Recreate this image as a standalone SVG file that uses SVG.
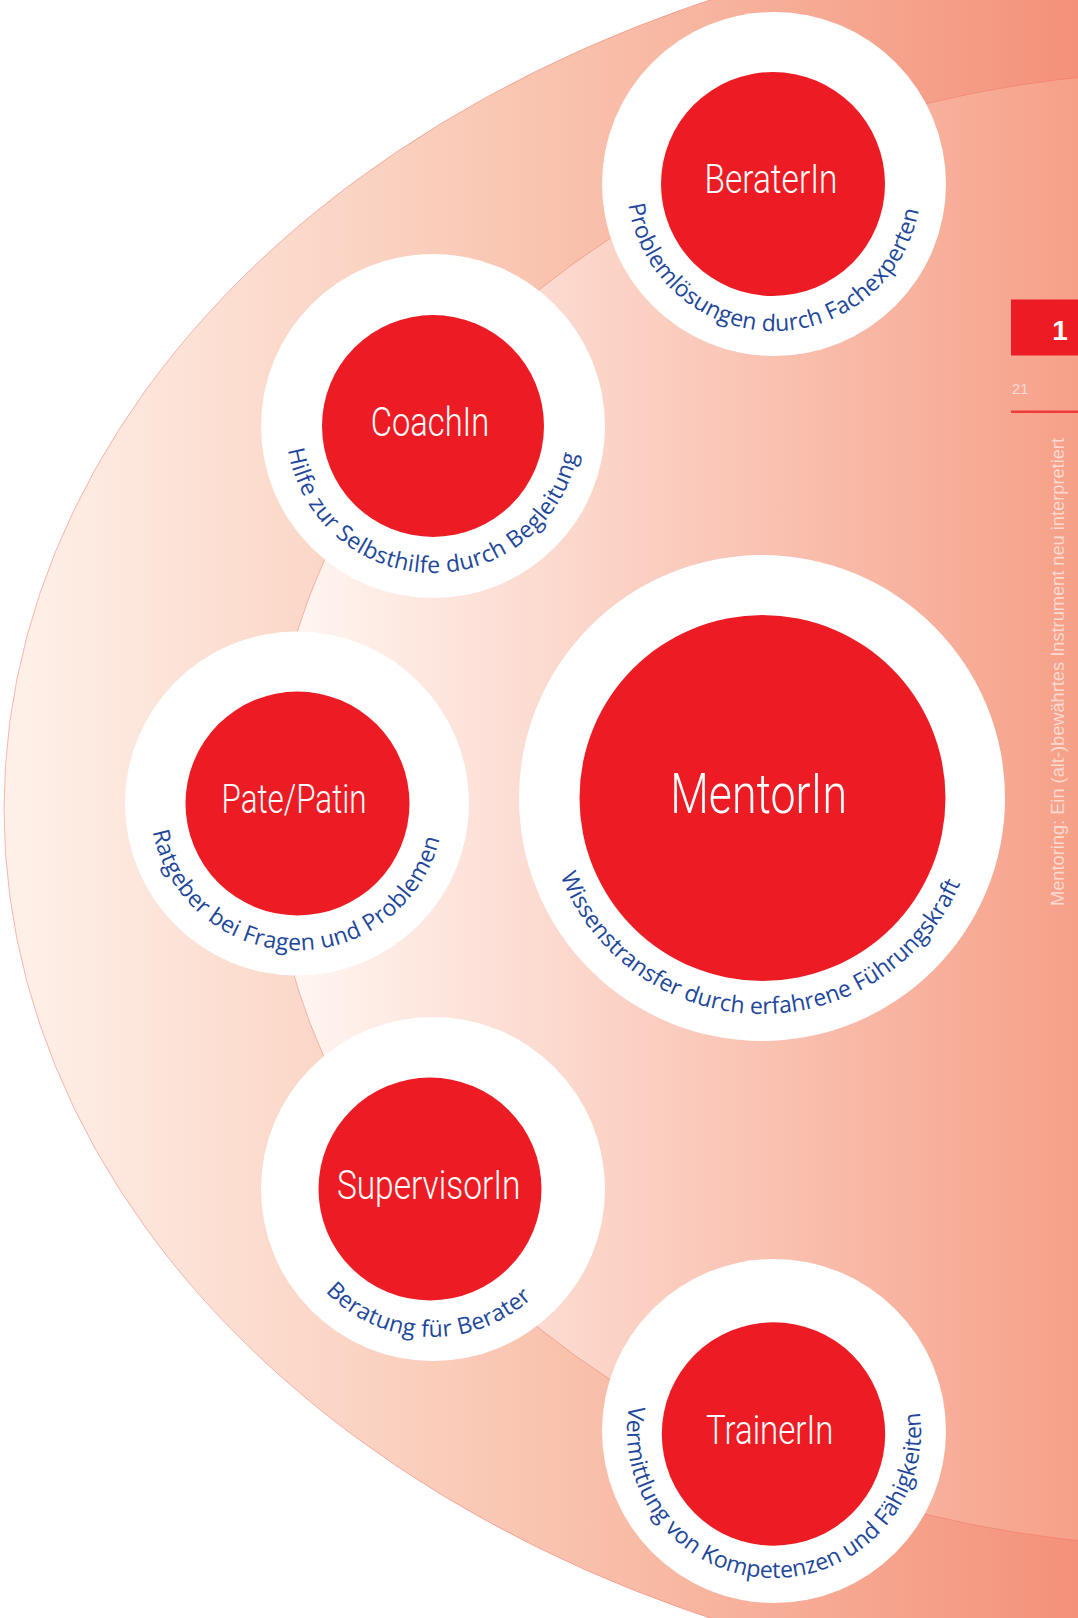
<svg xmlns="http://www.w3.org/2000/svg" xmlns:xlink="http://www.w3.org/1999/xlink" width="1078" height="1618" viewBox="0 0 1078 1618">
<defs>
  <linearGradient id="gOuter" gradientUnits="userSpaceOnUse" x1="4" y1="0" x2="1078" y2="0">
    <stop offset="0" stop-color="#FEF1EA"/>
    <stop offset="0.5" stop-color="#F9C4AF"/>
    <stop offset="1" stop-color="#F4917A"/>
  </linearGradient>
  <linearGradient id="gInner" gradientUnits="userSpaceOnUse" x1="270" y1="0" x2="1078" y2="0">
    <stop offset="0" stop-color="#FFF8F4"/>
    <stop offset="1" stop-color="#F6A088"/>
  </linearGradient>
  <path id="pBerater" d="M774,37 A147,147 0 0 0 774,331 A147,147 0 0 0 774,37"/>
  <path id="pCoach" d="M433,279 A147,147 0 0 0 433,573 A147,147 0 0 0 433,279"/>
  <path id="pPate" d="M297,656.5 A147,147 0 0 0 297,950.5 A147,147 0 0 0 297,656.5"/>
  <path id="pMentor" d="M762,582 A216,216 0 0 0 762,1014 A216,216 0 0 0 762,582"/>
  <path id="pSuper" d="M432,1041 A148,148 0 0 0 432,1337 A148,148 0 0 0 432,1041"/>
  <path id="pTrainer" d="M774,1284 A147,147 0 0 0 774,1578 A147,147 0 0 0 774,1284"/>
</defs>
<style>
  .band{stroke:#F26F62;stroke-width:0.8;stroke-opacity:0.6}
  .ring{fill:#FFFFFF}
  .core{fill:#ED1C24}
  .lbl{font-family:Roboto,"Liberation Sans",Arial,sans-serif;font-weight:300;fill:#FFFFFF;text-anchor:middle}
  .cap{font-family:"Open Sans","Noto Sans",sans-serif;font-size:23px;fill:#21479A;text-anchor:middle}
  .side{font-family:"Liberation Sans",Arial,sans-serif;fill:#FFFFFF;fill-opacity:0.6}
</style>
<rect x="0" y="0" width="1078" height="1618" fill="#FFFFFF"/>
<g id="background">
  <ellipse class="band" cx="1200" cy="809" rx="1196" ry="887" fill="url(#gOuter)"/>
  <ellipse class="band" cx="1200" cy="809" rx="930" ry="738" fill="url(#gInner)"/>
</g>
<g id="node-berater">
  <circle class="ring" cx="774" cy="184" r="172"/>
  <circle class="core" cx="773" cy="184" r="112"/>
  <text class="lbl" x="771" y="193" font-size="41" textLength="133" lengthAdjust="spacingAndGlyphs">BeraterIn</text>
  <text class="cap"><textPath xlink:href="#pBerater" href="#pBerater" startOffset="49.7%" textLength="415">Problemlösungen durch Fachexperten</textPath></text>
</g>
<g id="node-coach">
  <circle class="ring" cx="433" cy="426" r="172"/>
  <circle class="core" cx="433" cy="426" r="111"/>
  <text class="lbl" x="430" y="435.5" font-size="41" textLength="118.5" lengthAdjust="spacingAndGlyphs">CoachIn</text>
  <text class="cap"><textPath xlink:href="#pCoach" href="#pCoach" startOffset="49.75%" textLength="409">Hilfe zur Selbsthilfe durch Begleitung</textPath></text>
</g>
<g id="node-pate">
  <circle class="ring" cx="297" cy="803.5" r="172"/>
  <circle class="core" cx="297.5" cy="803.5" r="112"/>
  <text class="lbl" x="294" y="813" font-size="41" textLength="145" lengthAdjust="spacingAndGlyphs">Pate/Patin</text>
  <text class="cap"><textPath xlink:href="#pPate" href="#pPate" startOffset="49.6%" textLength="398">Ratgeber bei Fragen und Problemen</textPath></text>
</g>
<g id="node-mentor">
  <circle class="ring" cx="762" cy="798" r="243"/>
  <circle class="core" cx="762.5" cy="798" r="183"/>
  <text class="lbl" x="758.6" y="813" font-size="55" textLength="176.7" lengthAdjust="spacingAndGlyphs">MentorIn</text>
  <text class="cap"><textPath xlink:href="#pMentor" href="#pMentor" startOffset="49.7%" textLength="511">Wissenstransfer durch erfahrene Führungskraft</textPath></text>
</g>
<g id="node-supervisor">
  <circle class="ring" cx="433" cy="1189" r="172"/>
  <circle class="core" cx="430" cy="1189" r="111.5"/>
  <text class="lbl" x="428.7" y="1198.5" font-size="41" textLength="183.6" lengthAdjust="spacingAndGlyphs">SupervisorIn</text>
  <text class="cap"><textPath xlink:href="#pSuper" href="#pSuper" startOffset="49.5%" textLength="229">Beratung für Berater</textPath></text>
</g>
<g id="node-trainer">
  <circle class="ring" cx="774" cy="1431" r="172"/>
  <circle class="core" cx="773.5" cy="1434" r="111.7"/>
  <text class="lbl" x="769.7" y="1444" font-size="41" textLength="127.3" lengthAdjust="spacingAndGlyphs">TrainerIn</text>
  <text class="cap"><textPath xlink:href="#pTrainer" href="#pTrainer" startOffset="49.65%" textLength="506">Vermittlung von Kompetenzen und Fähigkeiten</textPath></text>
</g>
<g id="sidebar">
  <rect x="1011" y="299.5" width="67" height="56" fill="#ED1C24"/>
  <text x="1060" y="340" font-family="Liberation Sans, Arial, sans-serif" font-weight="bold" font-size="28" fill="#FFFFFF" text-anchor="middle">1</text>
  <text class="side" x="1012" y="394" font-size="14" textLength="16.5" lengthAdjust="spacingAndGlyphs">21</text>
  <line x1="1011" y1="411.8" x2="1078" y2="411.8" stroke="#EE3B3B" stroke-width="2.4"/>
  <text class="side" transform="translate(1064,906) rotate(-90)" x="0" y="0" font-size="18" textLength="468" lengthAdjust="spacingAndGlyphs">Mentoring: Ein (alt-)bewährtes Instrument neu interpretiert</text>
</g>
</svg>
